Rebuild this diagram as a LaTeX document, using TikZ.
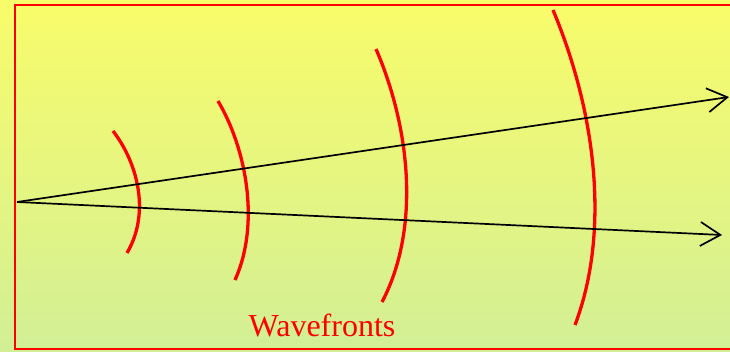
\documentclass[tikz,border=0pt]{standalone}
\usepackage{fontspec}
\setmainfont{Liberation Serif}
\usetikzlibrary{arrows.meta}
\definecolor{topc}{RGB}{249,252,106}
\definecolor{botc}{RGB}{210,239,150}
\definecolor{wred}{RGB}{255,0,0}
\tikzset{
  wave/.style={draw=wred, line width=3.3pt, line cap=butt},
  ray/.style={draw=black, line width=1.7pt, -{Straight Barb[length=20pt,width=24pt,line width=1.7pt]}},
}
\begin{document}
\begin{tikzpicture}[x=1pt,y=-1pt]
\useasboundingbox (0,0) rectangle (730,352);
\shade[top color=topc, bottom color=botc] (0,0) rectangle (730,352);
\begin{scope}
\clip (0,0) rectangle (730,352);
\draw[wred, line width=2pt] (15,5) rectangle (745,349);
\end{scope}
% wavefronts
\draw[wave] (113,131) .. controls (137,162) and (151,212) .. (127,253);
\draw[wave] (218,101) .. controls (247,150) and (260,225) .. (235,280);
\draw[wave] (376,49) .. controls (411,130) and (420,230) .. (382,302);
\draw[wave] (553,10) .. controls (595,110) and (611,230) .. (575,325);
% rays
\coordinate (src) at (17,202);
\coordinate (e1) at (729,97);
\coordinate (e2) at (722,235);
\draw[ray] (src) -- (e1);
\draw[ray] (src) -- (e2);
\node[text=wred, font=\fontsize{32}{36}\selectfont, anchor=base] (lbl) at (322,336) {Wavefronts};
\end{tikzpicture}
\end{document}
